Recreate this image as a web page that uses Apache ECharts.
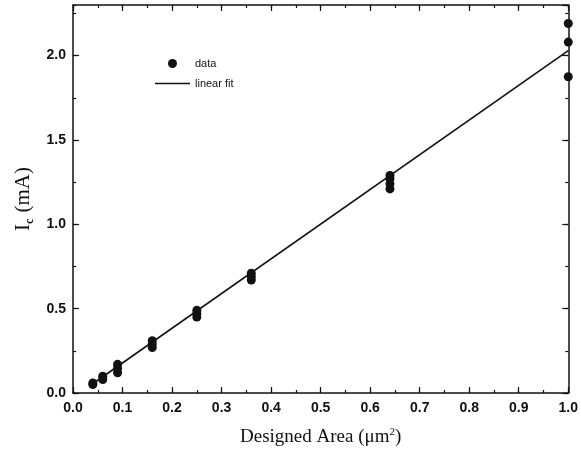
<!DOCTYPE html>
<html>
<head>
<meta charset="utf-8">
<script src="https://cdn.jsdelivr.net/npm/echarts@6/dist/echarts.min.js"></script>
<style>
html,body{margin:0;padding:0;background:#fff;}
#c{width:581px;height:452px;}
</style>
</head>
<body>
<div id="c"></div>
<script>
// Data
var areaX = [0.04, 0.04, 0.06, 0.06, 0.09, 0.09, 0.09, 0.16, 0.16, 0.16, 0.25, 0.25, 0.25, 0.36, 0.36, 0.36, 0.64, 0.64, 0.64, 0.64, 1.0, 1.0, 1.0];
var icY   = [0.05, 0.06, 0.08, 0.10, 0.12, 0.145, 0.17, 0.27, 0.29, 0.31, 0.45, 0.47, 0.49, 0.67, 0.69, 0.71, 1.21, 1.24, 1.27, 1.29, 1.875, 2.08, 2.19];
var fitX = [0.04, 1.0];
var fitY = [0.055, 2.03];
var legendNames = ['data', 'linear fit'];

var pts = areaX.map(function(x, i){ return [x, icY[i]]; });
var fit = fitX.map(function(x, i){ return [x, fitY[i]]; });

var ink = '#111';
var tickFont = {fontFamily: 'Liberation Sans', fontSize: 14, fontWeight: 'bold', color: ink};

function xAx(pos, interval, len, labels, line){
  return {
    type: 'value', position: pos, min: 0, max: 1.0, interval: interval,
    axisLine: {show: line, onZero: false, lineStyle: {color: ink, width: 1.5}},
    axisTick: {show: true, inside: true, length: len, lineStyle: {color: ink, width: 1.2}},
    axisLabel: labels ? Object.assign({show: true, margin: 8, formatter: function(v){ return v.toFixed(1); }}, tickFont) : {show: false},
    splitLine: {show: false}
  };
}
function yAx(pos, interval, len, labels, line){
  return {
    type: 'value', position: pos, min: 0, max: 2.3, interval: interval,
    axisLine: {show: line, onZero: false, lineStyle: {color: ink, width: 1.5}},
    axisTick: {show: true, inside: true, length: len, lineStyle: {color: ink, width: 1.2}},
    axisLabel: labels ? Object.assign({show: true, margin: 7, showMaxLabel: false, formatter: function(v){ return v.toFixed(1); }}, tickFont) : {show: false},
    splitLine: {show: false}
  };
}

var xs = [xAx('bottom', 0.1, 6, true, true), xAx('bottom', 0.05, 3, false, false), xAx('top', 0.1, 6, false, true), xAx('top', 0.05, 3, false, false)];
xs[0].name = 'Designed Area (μm{sup|2})';
xs[0].nameLocation = 'middle';
xs[0].nameGap = 34;
xs[0].nameTextStyle = {fontFamily: 'Liberation Serif', fontSize: 19, color: ink, rich: {sup: {fontFamily: 'Liberation Serif', fontSize: 11, color: ink, verticalAlign: 'top', padding: [0,0,9,0]}}};

var ys = [yAx('left', 0.5, 6, true, true), yAx('left', 0.25, 3, false, false), yAx('right', 0.5, 6, false, true), yAx('right', 0.25, 3, false, false)];
ys[0].name = 'I{sub|c} (mA)';
ys[0].nameLocation = 'middle';
ys[0].nameGap = 37;
ys[0].nameTextStyle = {fontFamily: 'Liberation Serif', fontSize: 21, color: ink, rich: {sub: {fontFamily: 'Liberation Serif', fontSize: 12, fontWeight: 'bold', color: ink, padding: [12,1,0,0]}}};

var chart = echarts.init(document.getElementById('c'), null, {renderer: 'canvas'});
chart.setOption({
  backgroundColor: '#fff',
  animation: false,
  grid: {left: 73, right: 10, top: 5, bottom: 59, containLabel: false},
  xAxis: xs,
  yAxis: ys,
  legend: {
    orient: 'vertical', left: 150, top: 53, padding: 5, itemWidth: 35, itemHeight: 9, itemGap: 9,
    data: [
      {name: legendNames[0], icon: 'circle'},
      {name: legendNames[1], icon: 'path://M0,0L35,0L35,1.6L0,1.6Z'}
    ],
    textStyle: {fontFamily: 'Liberation Sans', fontSize: 11, color: ink}
  },
  series: [
    {name: legendNames[0], type: 'scatter', xAxisIndex: 0, yAxisIndex: 0, data: pts, symbol: 'circle', symbolSize: 9, itemStyle: {color: ink, opacity: 1}},
    {name: legendNames[1], type: 'line', xAxisIndex: 0, yAxisIndex: 0, data: fit, symbol: 'none', lineStyle: {color: ink, width: 1.6}, itemStyle: {color: ink}}
  ]
});
</script>
</body>
</html>
